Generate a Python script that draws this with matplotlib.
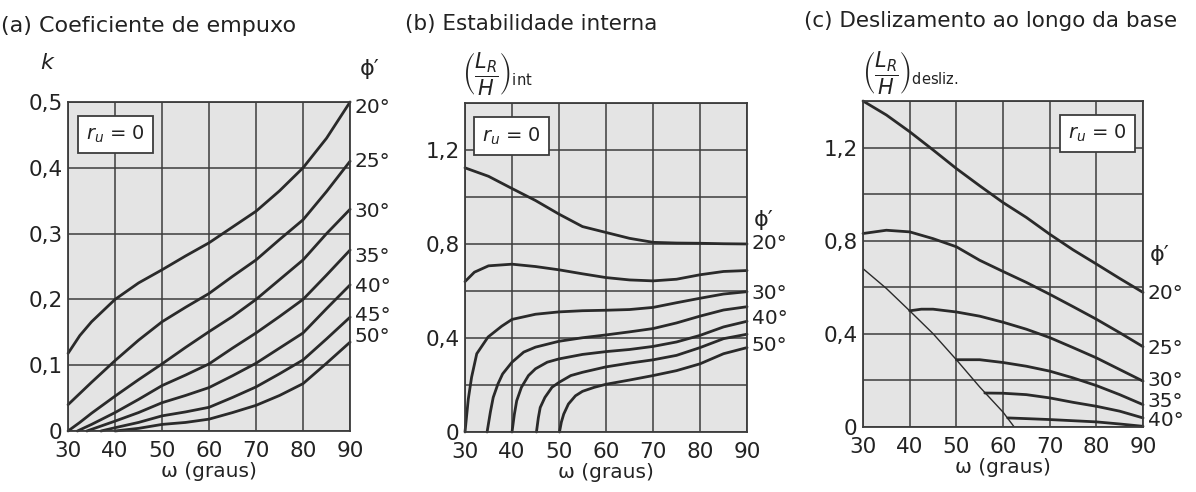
import matplotlib
matplotlib.use('Agg')
from matplotlib import pyplot as plt

plt.rcParams['font.family'] = ['DejaVu Sans']
plt.rcParams['mathtext.fontset'] = 'dejavusans'

# ---- (a) Coeficiente de empuxo: k vs omega ----
w_a = [30, 32.5, 35, 40, 45, 50, 55, 60, 65, 70, 75, 80, 85, 90]
k_20 = [0.118, 0.145, 0.166, 0.200, 0.225, 0.245, 0.266, 0.286, 0.310, 0.334, 0.365, 0.400, 0.445, 0.500]
k_25 = [0.040, 0.057, 0.074, 0.107, 0.138, 0.166, 0.188, 0.209, 0.235, 0.260, 0.291, 0.321, 0.364, 0.410]
k_30 = [0.000, 0.013, 0.027, 0.053, 0.078, 0.102, 0.127, 0.151, 0.174, 0.200, 0.230, 0.260, 0.300, 0.337]
w_a35 = [32, 35, 40, 45, 50, 55, 60, 65, 70, 75, 80, 85, 90]
k_35 = [0.000, 0.010, 0.028, 0.048, 0.069, 0.085, 0.102, 0.126, 0.149, 0.174, 0.200, 0.237, 0.275]
w_a40 = [34, 40, 45, 50, 55, 60, 65, 70, 75, 80, 85, 90]
k_40 = [0.000, 0.015, 0.028, 0.043, 0.054, 0.066, 0.084, 0.103, 0.126, 0.149, 0.186, 0.222]
w_a45 = [37, 40, 45, 50, 55, 60, 65, 70, 75, 80, 85, 90]
k_45 = [0.000, 0.005, 0.013, 0.023, 0.029, 0.036, 0.051, 0.067, 0.087, 0.108, 0.140, 0.173]
w_a50 = [40, 45, 50, 55, 60, 65, 70, 75, 80, 85, 90]
k_50 = [0.000, 0.004, 0.010, 0.013, 0.018, 0.028, 0.039, 0.054, 0.072, 0.103, 0.135]
labels_a = ['20°', '25°', '30°', '35°', '40°', '45°', '50°']
label_pos_a = [0.492, 0.409, 0.333, 0.265, 0.219, 0.176, 0.143]

# ---- (b) Estabilidade interna: (L_R/H)_int vs omega ----
w_b20 = [30, 35, 40, 45, 50, 55, 60, 65, 70, 75, 80, 85, 90]
int_20 = [1.124, 1.088, 1.036, 0.985, 0.927, 0.874, 0.849, 0.824, 0.807, 0.804, 0.803, 0.801, 0.800]
w_b25 = [30, 32, 35, 40, 45, 50, 55, 60, 65, 70, 75, 80, 85, 90]
int_25 = [0.640, 0.680, 0.707, 0.714, 0.704, 0.690, 0.673, 0.657, 0.647, 0.643, 0.650, 0.669, 0.683, 0.687]
w_b30 = [30, 30.7, 31.4, 32.5, 34.9, 37.8, 40, 45, 50, 55, 60, 65, 70, 75, 80, 85, 90]
int_30 = [0.000, 0.140, 0.233, 0.333, 0.404, 0.450, 0.479, 0.501, 0.511, 0.516, 0.518, 0.521, 0.530, 0.550, 0.569, 0.587, 0.597]
w_b35 = [34.7, 35.4, 36, 37, 38, 40, 42.5, 45, 50, 55, 60, 65, 70, 75, 80, 85, 90]
int_35 = [0.000, 0.085, 0.147, 0.204, 0.247, 0.297, 0.340, 0.361, 0.386, 0.401, 0.413, 0.426, 0.440, 0.464, 0.493, 0.519, 0.533]
w_b40 = [40, 40.5, 41, 42, 43.5, 45, 47.5, 50, 55, 60, 65, 70, 75, 80, 85, 90]
int_40 = [0.000, 0.075, 0.133, 0.190, 0.240, 0.269, 0.297, 0.311, 0.330, 0.342, 0.351, 0.364, 0.383, 0.411, 0.447, 0.471]
w_b45 = [45.2, 45.6, 46, 47, 48.5, 50, 52.5, 55, 60, 65, 70, 75, 80, 85, 90]
int_45 = [0.000, 0.060, 0.104, 0.147, 0.190, 0.211, 0.240, 0.254, 0.277, 0.293, 0.307, 0.326, 0.359, 0.397, 0.416]
w_b50 = [50.1, 50.5, 51, 52, 53.5, 55, 57.5, 60, 65, 70, 75, 80, 85, 90]
int_50 = [0.000, 0.042, 0.076, 0.119, 0.154, 0.173, 0.190, 0.203, 0.221, 0.240, 0.261, 0.290, 0.333, 0.359]
labels_b = ['20°', '30°', '40°', '50°']
label_pos_b = [0.800, 0.590, 0.482, 0.369]

# ---- (c) Deslizamento ao longo da base: (L_R/H)_desliz vs omega ----
w_c = [30, 35, 40, 45, 50, 55, 60, 65, 70, 75, 80, 85, 90]
des_20 = [1.400, 1.340, 1.268, 1.190, 1.110, 1.036, 0.964, 0.900, 0.828, 0.761, 0.700, 0.638, 0.578]
des_25 = [0.831, 0.845, 0.838, 0.809, 0.774, 0.716, 0.668, 0.621, 0.570, 0.517, 0.463, 0.405, 0.345]
w_c30 = [40, 42.5, 45, 50, 55, 60, 65, 70, 75, 80, 85, 90]
des_30 = [0.499, 0.506, 0.506, 0.494, 0.476, 0.450, 0.420, 0.384, 0.341, 0.297, 0.247, 0.197]
w_c35 = [50, 55, 60, 65, 70, 75, 80, 85, 90]
des_35 = [0.289, 0.289, 0.277, 0.261, 0.240, 0.211, 0.178, 0.139, 0.096]
w_c40 = [56.1, 60, 65, 70, 75, 80, 85, 90]
des_40 = [0.146, 0.145, 0.139, 0.125, 0.106, 0.089, 0.068, 0.039]
w_c45 = [61.0, 65, 70, 75, 80, 85, 90]
des_45 = [0.039, 0.036, 0.032, 0.027, 0.022, 0.013, 0.003]
w_limit = [30, 35, 40, 45, 50, 55, 60, 62.4]
des_limit = [0.680, 0.595, 0.499, 0.401, 0.289, 0.172, 0.064, 0.000]
labels_c = ['20°', '25°', '30°', '35°', '40°']
label_pos_c = [0.575, 0.339, 0.200, 0.109, 0.030]

x_ticks = [30, 40, 50, 60, 70, 80, 90]

BG = '#e4e4e4'
GRID = '#3c3c3c'
LINE = '#2a2a2a'
TXT = '#222222'
FS = 15.5


def style_axes(ax, ymax, ystep, ylabels):
    ax.set_facecolor(BG)
    ax.set_xlim(30, 90)
    ax.set_ylim(0, ymax)
    ax.set_xticks(x_ticks)
    ax.set_xticklabels([str(t) for t in x_ticks], fontsize=FS, color=TXT)
    n = int(round(ymax / ystep))
    yt = [i * ystep for i in range(n + 1)]
    ax.set_yticks(yt)
    ax.set_yticklabels(ylabels, fontsize=FS, color=TXT)
    ax.tick_params(length=0, pad=4)
    ax.tick_params(axis='x', pad=7)
    ax.grid(True, color=GRID, lw=1.1)
    ax.set_axisbelow(True)
    for s in ax.spines.values():
        s.set_color(GRID)
        s.set_linewidth(1.3)
    ax.set_xlabel('ω (graus)', fontsize=14.5, color=TXT, labelpad=1)


def box(ax, x, y):
    ax.text(x, y, r'$r_u$ = 0', transform=ax.transAxes, fontsize=14,
            va='center', ha='center', color=TXT,
            bbox=dict(boxstyle='square,pad=0.42', fc='white', ec=GRID, lw=1.3))


fig = plt.figure(figsize=(11.96, 4.92), dpi=100)
ax1 = fig.add_axes([0.0569, 0.124, 0.2358, 0.6687])
ax2 = fig.add_axes([0.3888, 0.122, 0.2358, 0.6687])
ax3 = fig.add_axes([0.7216, 0.1321, 0.2341, 0.6626])

# (a)
style_axes(ax1, 0.5, 0.1, ['0', '0,1', '0,2', '0,3', '0,4', '0,5'])
for xs, ys in [(w_a, k_20), (w_a, k_25), (w_a, k_30), (w_a35, k_35),
               (w_a40, k_40), (w_a45, k_45), (w_a50, k_50)]:
    ax1.plot(xs, ys, color=LINE, lw=2.0, solid_capstyle='round', clip_on=False)
for lab, yv in zip(labels_a, label_pos_a):
    ax1.text(91.0, yv, lab, fontsize=14.5, va='center', ha='left', color=TXT)
ax1.text(-0.075, 1.12, 'k', transform=ax1.transAxes, fontsize=16,
         style='italic', ha='center', va='center', color=TXT)
ax1.text(1.07, 1.1, 'ϕ′', transform=ax1.transAxes, fontsize=16,
         ha='center', va='center', color=TXT)
box(ax1, 0.167, 0.901)

# (b)
style_axes(ax2, 1.4, 0.2, ['0', '', '0,4', '', '0,8', '', '1,2', ''])
for xs, ys in [(w_b20, int_20), (w_b25, int_25), (w_b30, int_30), (w_b35, int_35),
               (w_b40, int_40), (w_b45, int_45), (w_b50, int_50)]:
    ax2.plot(xs, ys, color=LINE, lw=2.0, solid_capstyle='round', clip_on=False)
for lab, yv in zip(labels_b, label_pos_b):
    ax2.text(91.0, yv, lab, fontsize=14.5, va='center', ha='left', color=TXT)
ax2.text(93.5, 0.902, 'ϕ′', fontsize=16, ha='center', va='center', color=TXT)
ax2.text(-0.01, 1.09, r'$\left(\dfrac{L_R}{H}\right)_{\mathrm{int}}$',
         transform=ax2.transAxes, fontsize=15, ha='left', va='center', color=TXT)
box(ax2, 0.165, 0.9)

# (c)
style_axes(ax3, 1.4, 0.2, ['0', '', '0,4', '', '0,8', '', '1,2', ''])
for xs, ys in [(w_c, des_20), (w_c, des_25), (w_c30, des_30), (w_c35, des_35),
               (w_c40, des_40), (w_c45, des_45)]:
    ax3.plot(xs, ys, color=LINE, lw=2.0, solid_capstyle='round', clip_on=False)
ax3.plot(w_limit, des_limit, color=LINE, lw=1.0)
for lab, yv in zip(labels_c, label_pos_c):
    ax3.text(91.0, yv, lab, fontsize=14.5, va='center', ha='left', color=TXT)
ax3.text(93.5, 0.74, 'ϕ′', fontsize=16, ha='center', va='center', color=TXT)
ax3.text(-0.005, 1.086, r'$\left(\dfrac{L_R}{H}\right)_{\mathrm{desliz.}}$',
         transform=ax3.transAxes, fontsize=15, ha='left', va='center', color=TXT)
box(ax3, 0.8375, 0.9)

# titles
fig.text(0.001, 1 - 26 / 492, '(a) Coeficiente de empuxo', fontsize=16, va='center', color=TXT)
fig.text(405 / 1196, 1 - 24 / 492, '(b) Estabilidade interna', fontsize=15.5, va='center', color=TXT)
fig.text(804 / 1196, 1 - 21 / 492, '(c) Deslizamento ao longo da base', fontsize=15.5, va='center', color=TXT)

fig.savefig('out.png', dpi=100, facecolor='white')
